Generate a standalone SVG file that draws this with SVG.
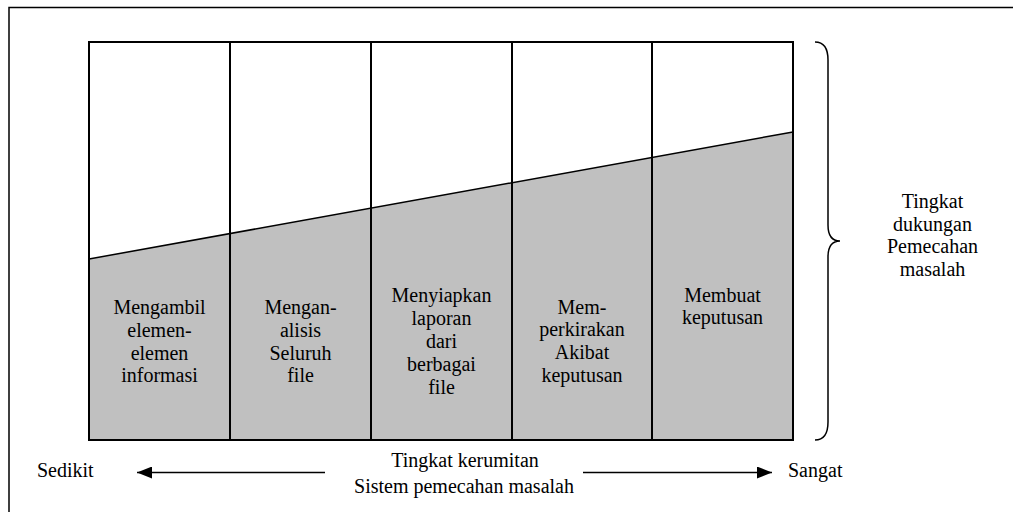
<svg xmlns="http://www.w3.org/2000/svg" width="1013" height="512" viewBox="0 0 1013 512">
  <style>
    .t { font-family: "Liberation Serif", "Times New Roman", Times, serif; font-size: 20px; fill: #000; text-anchor: middle; }
    .ts { font-family: "Liberation Serif", "Times New Roman", Times, serif; font-size: 20px; fill: #000; }
    .cell { fill: #c0c0c0; stroke: none; }
    .div { stroke: #000; stroke-width: 2; fill: none; }
    .ln { stroke: #000; stroke-width: 1.5; fill: none; }
  </style>
  <defs>
    <marker id="arrow" viewBox="0 0 15 12" refX="15" refY="6" markerWidth="15" markerHeight="12" markerUnits="userSpaceOnUse" orient="auto">
      <path d="M0,0 L15,6 L0,12 Z" fill="#000"/>
    </marker>
  </defs>
  <rect width="1013" height="512" fill="#fff"/>

  <!-- page frame -->
  <path class="ln" d="M9,520 L9,7.5 L1020,7.5"/>

  <!-- shaded support region under the slope -->
  <polygon class="cell" points="89,259 793,132 793,440 89,440"/>
  <line class="ln" x1="89" y1="259" x2="793" y2="132"/>

  <!-- columns -->
  <g id="col1">
    <text class="t"><tspan x="159.5" y="314">Mengambil</tspan><tspan x="159.5" y="337">elemen-</tspan><tspan x="159.5" y="359.5">elemen</tspan><tspan x="159.5" y="382">informasi</tspan></text>
  </g>
  <g id="col2">
    <text class="t"><tspan x="300.5" y="314">Mengan-</tspan><tspan x="300.5" y="337">alisis</tspan><tspan x="300.5" y="359.5">Seluruh</tspan><tspan x="300.5" y="382">file</tspan></text>
  </g>
  <g id="col3">
    <text class="t"><tspan x="441.5" y="301.5">Menyiapkan</tspan><tspan x="441.5" y="324.5">laporan</tspan><tspan x="441.5" y="347.5">dari</tspan><tspan x="441.5" y="370.5">berbagai</tspan><tspan x="441.5" y="393.5">file</tspan></text>
  </g>
  <g id="col4">
    <text class="t"><tspan x="582" y="313.5">Mem-</tspan><tspan x="582" y="336">perkirakan</tspan><tspan x="582" y="359">Akibat</tspan><tspan x="582" y="382">keputusan</tspan></text>
  </g>
  <g id="col5">
    <text class="t"><tspan x="722.5" y="301.5">Membuat</tspan><tspan x="722.5" y="324">keputusan</tspan></text>
  </g>

  <!-- grid -->
  <rect class="div" x="89" y="42" width="704" height="398"/>
  <path class="div" d="M230,42 V440 M371,42 V440 M512,42 V440 M652,42 V440"/>

  <!-- brace and vertical label -->
  <g id="brace">
    <path class="ln" d="M815,42 C824,42 828,48 828,60 L828,225 C828,236 832,241 840,241 C832,241 828,246 828,257 L828,422 C828,434 824,440 815,440"/>
    <text class="t"><tspan x="932.5" y="208">Tingkat</tspan><tspan x="932.5" y="230.5">dukungan</tspan><tspan x="932.5" y="253">Pemecahan</tspan><tspan x="932.5" y="275.5">masalah</tspan></text>
  </g>

  <!-- complexity axis -->
  <g id="axis">
    <text class="ts" x="37" y="477">Sedikit</text>
    <text class="t"><tspan x="465" y="467">Tingkat kerumitan</tspan><tspan x="464" y="493">Sistem pemecahan masalah</tspan></text>
    <text class="ts" x="788" y="477">Sangat</text>
  </g>
  <g id="connectors">
    <line class="ln" x1="325" y1="472.5" x2="137" y2="472.5" marker-end="url(#arrow)"/>
    <line class="ln" x1="583" y1="472.5" x2="772" y2="472.5" marker-end="url(#arrow)"/>
  </g>
</svg>
